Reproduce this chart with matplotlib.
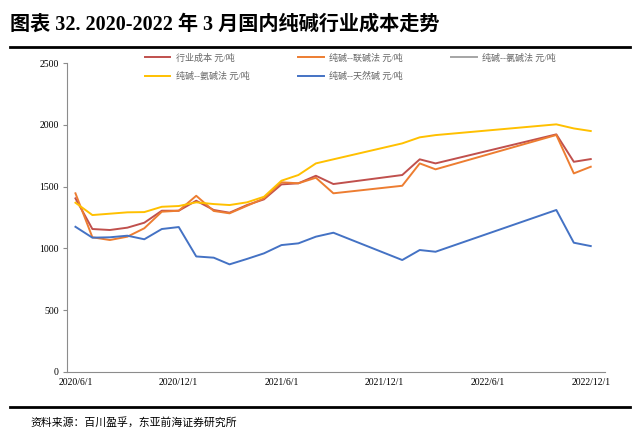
import numpy as np
import pandas as pd
import matplotlib
matplotlib.use("Agg")
import matplotlib.pyplot as plt
from matplotlib.lines import Line2D

plt.rcParams['font.family'] = ['Liberation Serif', 'Noto Sans CJK SC']

# monthly cost data (yuan/ton); months without data are skipped
dates = pd.to_datetime([
    "2020-06-01", "2020-07-01", "2020-08-01", "2020-09-01", "2020-10-01", "2020-11-01", "2020-12-01",
    "2021-01-01", "2021-02-01", "2021-03-01", "2021-04-01", "2021-05-01", "2021-06-01", "2021-07-01",
    "2021-08-01", "2021-09-01",
    "2022-01-01", "2022-02-01", "2022-03-01",
    "2022-10-01", "2022-11-01", "2022-12-01",
])
industry = [1405, 1157, 1149, 1168, 1208, 1305, 1305,
            1386, 1311, 1289, 1351, 1397, 1518, 1527, 1588, 1521,
            1594, 1721, 1688, 1923, 1701, 1723]
combined = [1446, 1090, 1068, 1095, 1163, 1297, 1305,
            1426, 1303, 1284, 1345, 1405, 1535, 1527, 1572, 1446,
            1507, 1688, 1640, 1918, 1607, 1661]
ammonia = [1370, 1270, 1281, 1292, 1294, 1337, 1343,
           1373, 1359, 1351, 1373, 1418, 1548, 1594, 1688, 1721,
           1850, 1899, 1917, 2004, 1971, 1950]
natural = [1175, 1087, 1090, 1103, 1074, 1157, 1173,
           935, 925, 871, 915, 960, 1027, 1041, 1095, 1127,
           906, 987, 973, 1311, 1046, 1019]

labels = ["行业成本 元/吨", "纯碱--联碱法 元/吨", "纯碱--氯碱法 元/吨",
          "纯碱--氨碱法 元/吨", "纯碱--天然碱 元/吨"]
colors = ["#C0504D", "#ED7D31", "#A5A5A5", "#FFC000", "#4472C4"]

tick_dates = pd.to_datetime(["2020-06-01", "2020-12-01", "2021-06-01",
                             "2021-12-01", "2022-06-01", "2022-12-01"])
tick_labels = ["2020/6/1", "2020/12/1", "2021/6/1", "2021/12/1", "2022/6/1", "2022/12/1"]

fig = plt.figure(figsize=(6.41, 4.41), dpi=100)
ax = fig.add_axes([0.1045, 0.1565, 0.84, 0.7005])

lw = 1.4
l_ind, = ax.plot(dates, industry, color=colors[0], lw=lw)
l_com, = ax.plot(dates, combined, color=colors[1], lw=lw)
l_amm, = ax.plot(dates, ammonia, color=colors[3], lw=lw)
l_nat, = ax.plot(dates, natural, color=colors[4], lw=lw)
l_gray = Line2D([], [], color=colors[2], lw=lw)

ax.set_ylim(0, 2500)
ax.set_yticks(np.arange(0, 2501, 500))
ax.set_xlim(pd.Timestamp("2020-05-17"), pd.Timestamp("2022-12-27"))
ax.set_xticks(tick_dates)
ax.set_xticklabels(tick_labels)

for s in ["top", "right"]:
    ax.spines[s].set_visible(False)
for s in ["left", "bottom"]:
    ax.spines[s].set_color("#8C8C8C")
    ax.spines[s].set_linewidth(0.8)
ax.tick_params(axis="y", length=3, color="#8C8C8C", labelsize=7, pad=3)
ax.tick_params(axis="x", length=0, labelsize=7, pad=4)

# legend: row1 = industry, combined, gray; row2 = ammonia, natural
handles = [l_ind, l_amm, l_com, l_nat, l_gray]
hl = [labels[0], labels[3], labels[1], labels[4], labels[2]]
leg = ax.legend(handles, hl, ncol=3, loc="upper left", bbox_to_anchor=(0.13, 1.058),
                frameon=False, fontsize=6.5, handlelength=2.8, columnspacing=5.4,
                labelspacing=1.05, handletextpad=0.6)
for t in leg.get_texts():
    t.set_color("#666666")

# title and source
fig.text(0.016, 0.945, "图表 32. 2020-2022 年 3 月国内纯碱行业成本走势",
         fontsize=14.5, fontweight="bold", va="center", ha="left")
fig.add_artist(Line2D([0.016, 0.983], [0.893, 0.893], color="black", lw=2.0))
fig.add_artist(Line2D([0.016, 0.983], [0.077, 0.077], color="black", lw=2.0))
fig.text(0.047, 0.043, "资料来源：百川盈孚，东亚前海证券研究所", fontsize=7.8,
         va="center", ha="left", family=["Noto Sans CJK SC", "DejaVu Sans"])

fig.savefig("out.png", dpi=100)
